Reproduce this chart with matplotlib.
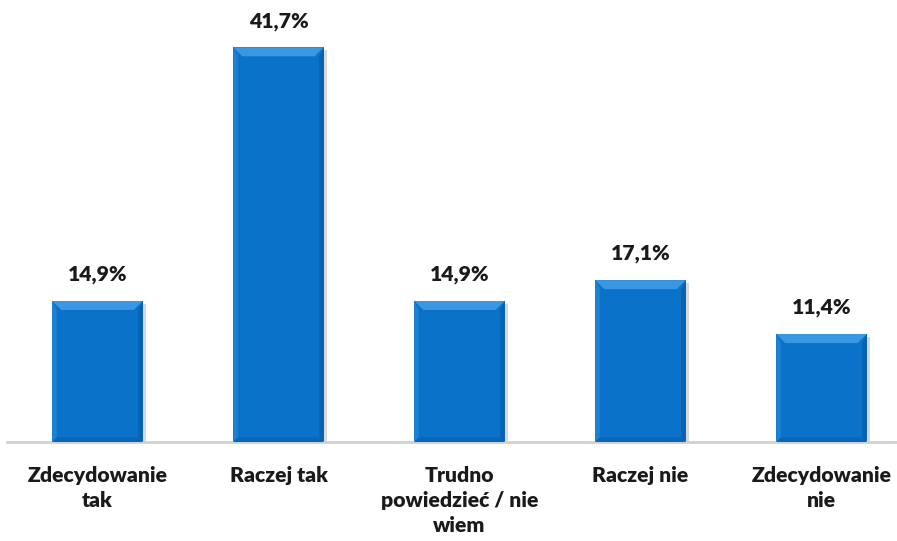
import matplotlib
matplotlib.use("Agg")
import matplotlib.pyplot as plt
from matplotlib.patches import Polygon
from matplotlib.transforms import IdentityTransform

categories = ["Zdecydowanie\ntak", "Raczej tak", "Trudno\npowiedzieć / nie\nwiem", "Raczej nie", "Zdecydowanie\nnie"]
values = [14.9, 41.7, 14.9, 17.1, 11.4]
value_labels = ["14,9%", "41,7%", "14,9%", "17,1%", "11,4%"]

plt.rcParams['font.family'] = ['Lato', 'DejaVu Sans']

fig = plt.figure(figsize=(8.97, 5.41), dpi=100)
ax = fig.add_axes([7 / 897, 99 / 541, 890 / 897, 442 / 541])
ax.patch.set_visible(False)
ax.set_xlim(-0.5, 4.417)
ax.set_ylim(0, 46.7)

x = list(range(len(values)))
bars = ax.bar(x, values, width=0.5, color="#0A72C8", edgecolor="none", zorder=2)

for s in ["top", "right", "left"]:
    ax.spines[s].set_visible(False)
ax.spines["bottom"].set_color("#D0D0D0")
ax.spines["bottom"].set_linewidth(2)
ax.set_yticks([])
ax.set_xticks(x)
ax.set_xticklabels(categories, fontsize=15.2, fontweight="heavy", color="#1a1a1a", linespacing=1.4)
ax.tick_params(axis="x", length=0, pad=17)

for xi, v, lab in zip(x, values, value_labels):
    ax.annotate(lab, (xi, v), xytext=(0, 12), textcoords="offset points",
                ha="center", va="bottom", fontsize=15.2, fontweight="heavy", color="#1a1a1a")

# bevelled face for each bar, built from the bar's drawn extent
fig.canvas.draw()
bev = 9
for b in bars:
    bb = b.get_window_extent()
    x0, y0, x1, y1 = bb.x0, bb.y0, bb.x1, bb.y1
    # soft shadow behind the bar
    sh = Polygon([(x0 + 2, y0 - 1), (x1 + 3, y0 - 1), (x1 + 3, y1 - 3), (x0 + 2, y1 - 3)],
                 closed=True, transform=IdentityTransform(), facecolor="#000000",
                 alpha=0.15, edgecolor="none", zorder=-1)
    fig.add_artist(sh)
    faces = [
        ([(x0, y1), (x1, y1), (x1 - bev, y1 - bev), (x0 + bev, y1 - bev)], "#3A97E2"),
        ([(x0, y1), (x0 + bev * 0.5, y1 - bev), (x0 + bev * 0.5, y0 + bev * 0.5), (x0, y0)], "#1E82D3"),
        ([(x1, y1), (x1, y0), (x1 - bev * 0.5, y0 + bev * 0.5), (x1 - bev * 0.5, y1 - bev)], "#0862B0"),
        ([(x0, y0), (x1, y0), (x1 - bev * 0.5, y0 + bev * 0.5), (x0 + bev * 0.5, y0 + bev * 0.5)], "#0866B6"),
    ]
    for pts, c in faces:
        fig.add_artist(Polygon(pts, closed=True, transform=IdentityTransform(),
                               facecolor=c, edgecolor="none", zorder=3))

fig.savefig("out.png", dpi=100)
